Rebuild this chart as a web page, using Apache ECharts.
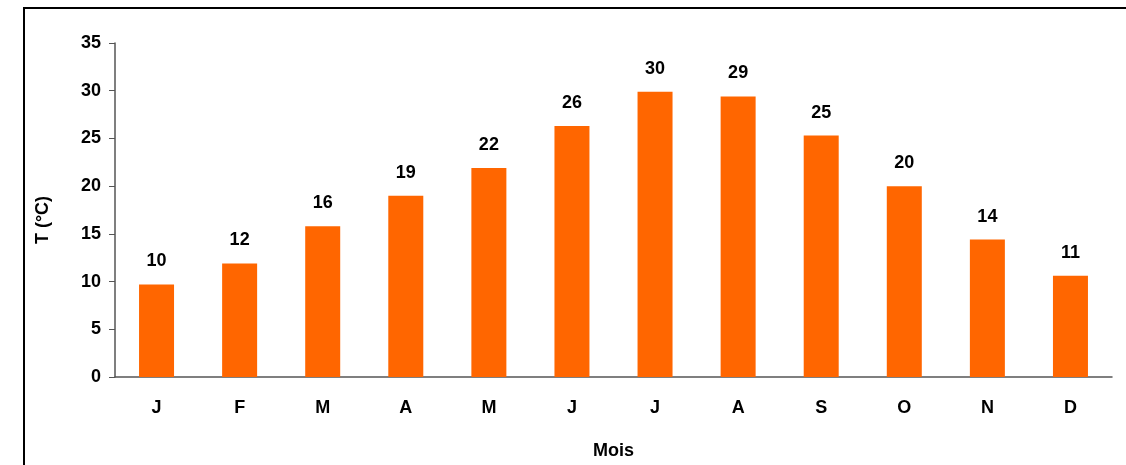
<!DOCTYPE html>
<html>
<head>
<meta charset="utf-8">
<script src="https://cdn.jsdelivr.net/npm/echarts@6/dist/echarts.min.js"></script>
<style>
  html, body { margin: 0; padding: 0; background: #fff; }
  #frame { position: absolute; left: 23px; top: 7px; width: 1200px; height: 500px;
           border-left: 2px solid #000; border-top: 2px solid #000; box-shadow: 0 1px 0 #999; }
  #chart { position: absolute; left: 0; top: 0; width: 1126px; height: 465px; }
</style>
</head>
<body>
<div id="frame"></div>
<div id="chart"></div>
<script>
const months = ["J", "F", "M", "A", "M", "J", "J", "A", "S", "O", "N", "D"];
const temps = [9.7, 11.9, 15.8, 19.0, 21.9, 26.3, 29.9, 29.4, 25.3, 20.0, 14.4, 10.6];
const yTicks = [0, 5, 10, 15, 20, 25, 30, 35];

const font = "'Liberation Sans', Arial, sans-serif";
const chart = echarts.init(document.getElementById("chart"));

chart.setOption({
  animation: false,
  grid: { left: 115, top: 43, right: 14, bottom: 87 },
  xAxis: {
    type: "category",
    data: months,
    name: "Mois",
    nameLocation: "middle",
    nameGap: 65,
    nameTextStyle: { fontFamily: font, fontWeight: "bold", fontSize: 18, color: "#000" },
    axisLine: { lineStyle: { color: "#555", width: 1.5 } },
    axisTick: { alignWithLabel: false, length: 6, lineStyle: { color: "#555" } },
    axisLabel: { fontFamily: font, fontWeight: "bold", fontSize: 18, color: "#000", margin: 22 }
  },
  yAxis: {
    type: "value",
    min: yTicks[0],
    max: yTicks[yTicks.length - 1],
    interval: 5,
    name: "T (°C)",
    nameLocation: "middle",
    nameGap: 63,
    nameTextStyle: { fontFamily: font, fontWeight: "bold", fontSize: 18, color: "#000", padding: [0, 20, 0, 0] },
    axisLine: { show: true, lineStyle: { color: "#555", width: 1.5 } },
    axisTick: { show: true, length: 6, inside: false, lineStyle: { color: "#555" } },
    axisLabel: { fontFamily: font, fontWeight: "bold", fontSize: 18, color: "#000", margin: 14 },
    splitLine: { show: false }
  },
  series: [{
    type: "bar",
    data: temps,
    barWidth: 35,
    itemStyle: { color: "#FF6600" },
    label: {
      show: true,
      position: "top",
      distance: 14,
      fontFamily: font,
      fontWeight: "bold",
      fontSize: 18,
      color: "#000",
      formatter: (p) => Math.round(p.value)
    }
  }]
});
</script>
</body>
</html>
